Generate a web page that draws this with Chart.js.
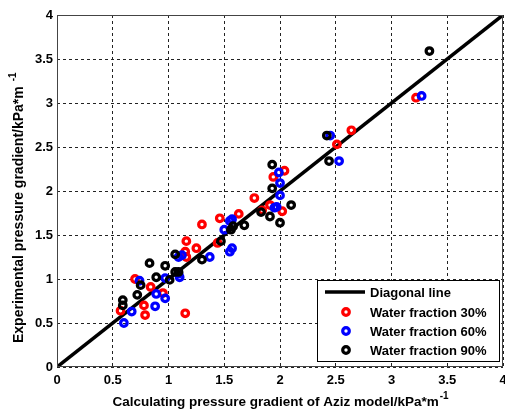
<!DOCTYPE html>
<html>
<head>
<meta charset="utf-8">
<script src="https://cdn.jsdelivr.net/npm/chart.js@4/dist/chart.umd.min.js"></script>
<style>
  html, body { margin: 0; padding: 0; background: #fff; }
  canvas { display: block; }
</style>
</head>
<body>
<canvas id="myChart" width="505" height="411"></canvas>
<script>
// data
const diagX = [0, 4];
const diagY = [0, 4];

const wf30x = [0.57, 0.79, 0.78, 0.70, 0.84, 0.95, 1.15, 1.15, 1.16, 1.16, 1.25, 1.30, 1.46, 1.44, 1.63, 1.77, 1.84, 1.91, 1.94, 2.04, 2.02, 2.51, 2.64, 3.22];
const wf30y = [0.64, 0.59, 0.70, 1.00, 0.91, 0.84, 0.61, 1.31, 1.25, 1.43, 1.35, 1.62, 1.69, 1.41, 1.74, 1.92, 1.78, 1.84, 2.16, 2.23, 1.77, 2.53, 2.69, 3.06];

const wf60x = [0.60, 0.67, 0.88, 0.97, 0.89, 0.74, 0.97, 1.10, 1.09, 1.09, 1.12, 1.37, 1.50, 1.55, 1.55, 1.57, 1.57, 1.97, 2.00, 2.00, 1.99, 1.95, 2.45, 2.53, 3.27];
const wf60y = [0.50, 0.63, 0.69, 0.78, 0.83, 0.98, 1.01, 1.02, 1.06, 1.25, 1.27, 1.25, 1.56, 1.66, 1.31, 1.35, 1.68, 1.82, 1.95, 2.09, 2.21, 1.81, 2.63, 2.34, 3.08];

const wf90x = [0.59, 0.59, 0.72, 0.75, 0.89, 0.83, 0.97, 1.01, 1.06, 1.09, 1.06, 1.30, 1.47, 1.56, 1.58, 1.68, 1.83, 1.91, 2.00, 1.93, 1.93, 2.10, 2.44, 2.42, 3.34];
const wf90y = [0.76, 0.70, 0.82, 0.93, 1.02, 1.18, 1.15, 0.99, 1.08, 1.08, 1.28, 1.22, 1.43, 1.56, 1.60, 1.61, 1.76, 1.71, 1.64, 2.03, 2.30, 1.84, 2.34, 2.63, 3.59];

const axisTicks = [0, 0.5, 1, 1.5, 2, 2.5, 3, 3.5, 4];
const xTitle = 'Calculating pressure gradient of Aziz model/kPa*m';
const yTitle = 'Experimental pressure gradient/kPa*m';
const unitSup = '-1';

const FONT = '"Liberation Sans", Arial, sans-serif';

// wanted plot box
const AREA = { left: 57, top: 15, right: 503, bottom: 367 };

function pts(xs, ys) {
    return xs.map((x, i) => ({ x: x, y: ys[i] }));
}

function markerSet(label, xs, ys, color, order) {
    return {
        label: label,
        data: pts(xs, ys),
        borderColor: color,
        backgroundColor: 'rgba(0,0,0,0)',
        pointRadius: 3.3,
        pointBorderWidth: 3.2,
        showLine: false,
        order: order
    };
}

// frame, axis titles and legend box
const extras = {
    id: 'extras',
    afterDraw(chart) {
        const ctx = chart.ctx;
        const a = chart.chartArea;
        ctx.save();

        // plot box
        ctx.strokeStyle = '#444';
        ctx.lineWidth = 1;
        ctx.strokeRect(a.left + 0.5, a.top + 0.5, a.right - a.left - 1, a.bottom - a.top - 1);

        // x title with superscript
        ctx.fillStyle = '#000';
        ctx.textBaseline = 'alphabetic';
        ctx.textAlign = 'left';
        ctx.font = 'bold 13.5px ' + FONT;
        const w1 = ctx.measureText(xTitle).width;
        ctx.font = 'bold 10px ' + FONT;
        const w2 = ctx.measureText(unitSup).width;
        let sx = (a.left + a.right) / 2 - (w1 + w2) / 2;
        ctx.font = 'bold 13.5px ' + FONT;
        ctx.fillText(xTitle, sx, 406);
        ctx.font = 'bold 10px ' + FONT;
        ctx.fillText(unitSup, sx + w1 + 1, 399);

        // y title, rotated
        ctx.translate(23, 343);
        ctx.rotate(-Math.PI / 2);
        ctx.font = 'bold 14px ' + FONT;
        const w3 = ctx.measureText(yTitle).width;
        ctx.fillText(yTitle, 0, 0);
        ctx.font = 'bold 10px ' + FONT;
        ctx.fillText(unitSup, w3 + 5, -7);
        ctx.setTransform(1, 0, 0, 1, 0, 0);

        // legend
        const bx = 317, by = 280, bw = 182, bh = 81;
        ctx.fillStyle = '#fff';
        ctx.fillRect(bx, by, bw, bh);
        ctx.strokeStyle = '#000';
        ctx.lineWidth = 1;
        ctx.strokeRect(bx + 0.5, by + 0.5, bw, bh);

        const rows = [292, 312, 331, 350];
        ctx.font = 'bold 13px ' + FONT;
        ctx.textBaseline = 'middle';
        chart.data.datasets.forEach((ds, i) => {
            const yy = rows[i];
            ctx.strokeStyle = ds.borderColor;
            if (ds.showLine) {
                ctx.lineWidth = ds.borderWidth;
                ctx.beginPath();
                ctx.moveTo(325, yy);
                ctx.lineTo(365, yy);
                ctx.stroke();
            } else {
                ctx.lineWidth = ds.pointBorderWidth;
                ctx.beginPath();
                ctx.arc(346, yy, ds.pointRadius, 0, Math.PI * 2);
                ctx.stroke();
            }
            ctx.fillStyle = '#000';
            ctx.fillText(ds.label, 370, yy + 1);
        });
        ctx.restore();
    }
};

const tickFont = { family: FONT, size: 13, weight: 'bold' };

const ctx = document.getElementById('myChart').getContext('2d');

const chart = new Chart(ctx, {
    type: 'scatter',
    data: {
        datasets: [
            {
                label: 'Diagonal line',
                data: pts(diagX, diagY),
                showLine: true,
                borderColor: '#000',
                borderWidth: 3.5,
                pointRadius: 0,
                fill: false,
                order: 4
            },
            markerSet('Water fraction 30%', wf30x, wf30y, '#ff0000', 3),
            markerSet('Water fraction 60%', wf60x, wf60y, '#0000ff', 2),
            markerSet('Water fraction 90%', wf90x, wf90y, '#000000', 1)
        ]
    },
    options: {
        responsive: false,
        animation: false,
        layout: { autoPadding: false, padding: { left: 0, right: 2, top: 15, bottom: 0 } },
        scales: {
            x: {
                type: 'linear',
                min: 0,
                max: 4,
                afterBuildTicks: s => { s.ticks = axisTicks.map(v => ({ value: v })); },
                afterFit: s => { s.height = 44; s.paddingLeft = 0; s.paddingRight = 0; },
                ticks: {
                    color: '#000',
                    padding: 6,
                    maxRotation: 0,
                    callback: v => String(v),
                    font: tickFont
                },
                grid: { color: '#222', lineWidth: 1, drawTicks: false },
                border: { display: false, dash: [3, 3] }
            },
            y: {
                type: 'linear',
                min: 0,
                max: 4,
                afterBuildTicks: s => { s.ticks = axisTicks.map(v => ({ value: v })); },
                afterFit: s => { s.width = 57; s.paddingTop = 0; s.paddingBottom = 0; },
                ticks: {
                    color: '#000',
                    padding: 4,
                    callback: v => String(v),
                    font: tickFont
                },
                grid: { color: '#222', lineWidth: 1, drawTicks: false },
                border: { display: false, dash: [3, 3] }
            }
        },
        plugins: {
            legend: { display: false },
            tooltip: { enabled: false }
        }
    },
    plugins: [extras]
});

// nudge the layout padding so the plot box lands where it is in the picture
const pad = chart.options.layout.padding;
const ca = chart.chartArea;
if (ca.right !== AREA.right || ca.top !== AREA.top) {
    pad.top += AREA.top - ca.top;
    pad.right += ca.right - AREA.right;
    chart.update();
}
</script>
</body>
</html>
